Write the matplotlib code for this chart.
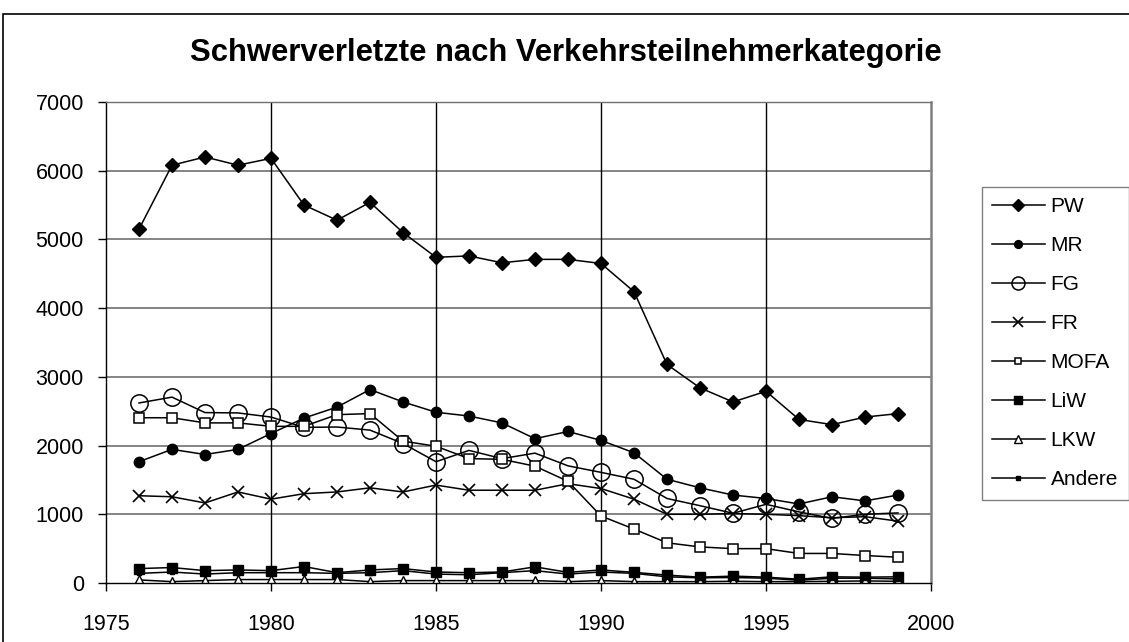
import matplotlib
matplotlib.use("Agg")
import matplotlib.pyplot as plt
from matplotlib.patches import Rectangle

plt.rcParams['font.family'] = ['Liberation Sans', 'DejaVu Sans']

years = list(range(1976, 2000))
pw = [5150, 6080, 6200, 6080, 6180, 5500, 5280, 5540, 5100, 4740, 4760, 4660,
      4710, 4710, 4650, 4240, 3180, 2840, 2635, 2790, 2380, 2305, 2415, 2465]
mr = [1765, 1945, 1870, 1945, 2175, 2400, 2560, 2815, 2635, 2485, 2430, 2330,
      2100, 2205, 2075, 1895, 1510, 1385, 1280, 1230, 1150, 1255, 1195, 1280]
fg = [2620, 2705, 2480, 2475, 2415, 2265, 2270, 2225, 2030, 1765, 1930, 1810,
      1890, 1705, 1610, 1510, 1230, 1125, 1015, 1145, 1035, 940, 1000, 1020]
fr = [1270, 1255, 1165, 1325, 1220, 1300, 1325, 1385, 1325, 1425, 1350, 1350,
      1350, 1445, 1375, 1220, 1000, 1000, 1010, 1000, 980, 950, 965, 900]
mofa = [2405, 2405, 2330, 2330, 2280, 2280, 2450, 2465, 2065, 1990, 1810, 1800,
        1700, 1480, 975, 785, 585, 525, 500, 500, 430, 430, 400, 375]
liw = [210, 225, 180, 190, 180, 240, 150, 190, 210, 160, 150, 160,
       235, 155, 190, 155, 115, 85, 100, 85, 55, 90, 85, 90]
lkw = [45, 20, 35, 50, 50, 50, 50, 20, 35, 35, 35, 35,
       35, 20, 35, 20, 20, 20, 25, 20, 20, 25, 30, 25]
andere = [140, 160, 130, 150, 150, 150, 140, 150, 180, 130, 120, 150,
          180, 130, 160, 140, 90, 75, 80, 70, 40, 70, 70, 60]

labels = ['PW', 'MR', 'FG', 'FR', 'MOFA', 'LiW', 'LKW', 'Andere']
series = [pw, mr, fg, fr, mofa, liw, lkw, andere]
styles = [
    dict(marker='D', ms=7.5, mfc='black', mec='black'),
    dict(marker='o', ms=7.5, mfc='black', mec='black'),
    dict(marker='o', ms=12.5, mfc='none', mec='black', mew=1.1),
    dict(marker='x', ms=9, mec='black', mew=1.2),
    dict(marker='s', ms=6.5, mfc='white', mec='black', mew=1.1),
    dict(marker='s', ms=7.5, mfc='black', mec='black'),
    dict(marker='^', ms=7.5, mfc='white', mec='black', mew=1.0),
    dict(marker='s', ms=3.5, mfc='black', mec='black'),
]

W, H = 1129, 642
fig = plt.figure(figsize=(W / 100, H / 100), dpi=100)
ax = fig.add_axes([106 / W, 1 - 583 / H, (931 - 106) / W, (583 - 102) / H])

for vals, lab, st in zip(series, labels, styles):
    ax.plot(years, vals, color='black', lw=1.1, label=lab, **st)

ax.set_xlim(1975, 2000)
ax.set_ylim(0, 7000)
ax.set_xticks(range(1975, 2001, 5))
ax.set_yticks(range(0, 7001, 1000))
ax.tick_params(axis='both', direction='out', length=6, width=1, labelsize=15.5,
               colors='black')
ax.tick_params(axis='y', pad=10)
ax.tick_params(axis='x', pad=16)

for y in range(1000, 7001, 1000):
    ax.axhline(y, color='#707070', lw=1.2, zorder=0.5)
for x in range(1980, 1996, 5):
    ax.axvline(x, color='black', lw=1.0, zorder=0.5)

ax.spines['left'].set_color('black')
ax.spines['bottom'].set_color('black')
ax.spines['top'].set_color('#707070')
ax.spines['right'].set_color('#808080')
ax.spines['right'].set_linewidth(1.8)
for s in ['left', 'bottom', 'top']:
    ax.spines[s].set_linewidth(1.0)

fig.text(566 / W, 1 - 53 / H, 'Schwerverletzte nach Verkehrsteilnehmerkategorie',
         ha='center', va='center', fontsize=22.3, fontweight='bold')

leg = fig.legend(loc='upper left', bbox_to_anchor=(982 / W, 1 - 187 / H),
                 fontsize=15, frameon=True, fancybox=False, edgecolor='#606060',
                 handlelength=2.5, handletextpad=0.3, borderpad=0.5,
                 labelspacing=0.96, borderaxespad=0, markerscale=0.75)
leg.get_frame().set_linewidth(1.0)

fig.patches.append(Rectangle((3 / W, -0.1), 1.2, 1.1 - 14 / H,
                             transform=fig.transFigure, fill=False,
                             edgecolor='black', lw=1.2))

fig.savefig('out.png', dpi=100)
